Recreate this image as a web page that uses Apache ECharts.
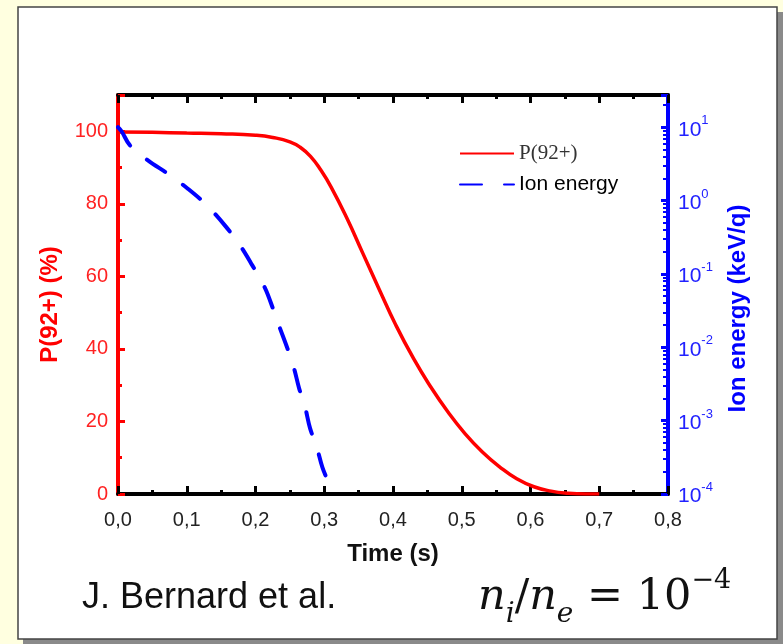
<!DOCTYPE html>
<html><head><meta charset="utf-8">
<script src="https://cdn.jsdelivr.net/npm/echarts@6/dist/echarts.min.js"></script>
<style>html,body{margin:0;padding:0;background:#ffffe0}#c{width:783px;height:644px}</style>
</head><body><div id="c"></div>
<script>
// P(92+) (%) vs time (s)
const pTime  = [0, 0.05, 0.10, 0.15, 0.20, 0.225, 0.25, 0.265, 0.28, 0.295, 0.31, 0.333, 0.356, 0.38, 0.403, 0.43, 0.455, 0.48, 0.505, 0.53, 0.555, 0.58, 0.605, 0.63, 0.655, 0.68, 0.70];
const pValue = [99.8, 99.7, 99.5, 99.3, 98.9, 98.3, 97.1, 95.6, 93.1, 89.3, 84.6, 76.0, 66.4, 56.4, 47.0, 37.3, 29.5, 22.6, 16.6, 11.6, 7.5, 4.2, 2.0, 0.8, 0.2, 0, 0];
// Ion energy (keV/q) vs time (s)
const eTime  = [0, 0.0054, 0.0175, 0.044, 0.073, 0.102, 0.129, 0.156, 0.1775, 0.1945, 0.2137, 0.2259, 0.2355, 0.2463, 0.256, 0.2633, 0.272, 0.2793, 0.289, 0.2972, 0.3084];
const eValue = [10, 8.75, 5.64, 3.51, 2.31, 1.44, 0.867, 0.452, 0.245, 0.135, 0.0647, 0.0327, 0.0183, 0.00975, 0.00519, 0.00279, 0.00155, 0.00079, 0.00044, 0.000233, 0.000127];
const seriesNames = ['P(92+)', 'Ion energy'];
const xName = 'Time (s)';
const yLeftName = 'P(92+) (%)';
const yRightName = 'Ion energy (keV/q)';
const author = 'J. Bernard et al.';

const SANS = '"Liberation Sans", Arial, sans-serif';
const SERIF = '"Liberation Serif", "Times New Roman", serif';
const MATH = '"DejaVu Serif", serif';

const chart = echarts.init(document.getElementById('c'));
const zip = (a, b) => a.map((v, i) => [v, b[i]]);

chart.setOption({
  backgroundColor: '#ffffe0',
  animation: false,
  grid: { left: 118, right: 115, top: 95, bottom: 150 },
  legend: {
    orient: 'vertical', left: 454, top: 138,
    itemWidth: 54, itemHeight: 18, itemGap: 10,
    itemStyle: { opacity: 0 },
    data: seriesNames,
    formatter: n => n === seriesNames[0] ? '{a|' + n + '}' : '{b|' + n + '}',
    textStyle: {
      rich: {
        a: { fontFamily: SERIF, fontSize: 21, color: '#333' },
        b: { fontFamily: SANS, fontSize: 21, color: '#000' }
      }
    }
  },
  xAxis: [{
    type: 'value', min: 0, max: 0.8, interval: 0.1, position: 'bottom',
    name: xName, nameLocation: 'middle', nameGap: 48,
    nameTextStyle: { fontFamily: SANS, fontWeight: 'bold', fontSize: 24, color: '#111' },
    axisLine: { onZero: false, lineStyle: { color: '#000', width: 4 } },
    axisTick: { inside: true, length: 8, lineStyle: { color: '#000', width: 3 } },
    minorTick: { show: true, splitNumber: 2, length: 4, lineStyle: { color: '#000', width: 3 } },
    axisLabel: { fontFamily: SANS, fontSize: 20, color: '#222', margin: 16,
      formatter: v => v.toFixed(1).replace('.', ',') },
    splitLine: { show: false }
  }, {
    type: 'value', min: 0, max: 0.8, interval: 0.1, position: 'top',
    axisLine: { onZero: false, lineStyle: { color: '#000', width: 4 } },
    axisTick: { inside: true, length: 8, lineStyle: { color: '#000', width: 3 } },
    minorTick: { show: true, splitNumber: 2, length: 4, lineStyle: { color: '#000', width: 3 } },
    axisLabel: { show: false },
    splitLine: { show: false }
  }],
  yAxis: [{
    type: 'value', min: 0, max: 110, interval: 20, position: 'left',
    name: yLeftName, nameLocation: 'middle', nameGap: 56, nameRotate: 90,
    nameTextStyle: { fontFamily: SANS, fontWeight: 'bold', fontSize: 24, color: '#ff0000', padding: [0, 20, 0, 0] },
    axisLine: { onZero: false, lineStyle: { color: '#ff0000', width: 4 } },
    axisTick: { inside: true, length: 7, lineStyle: { color: '#ff0000', width: 3 } },
    minorTick: { show: true, splitNumber: 2, length: 4, lineStyle: { color: '#ff0000', width: 3 } },
    axisLabel: { fontFamily: SANS, fontSize: 20, color: '#ff2222', margin: 10,
      formatter: v => (v % 20 === 0 ? String(v) : '') },
    splitLine: { show: false }
  }, {
    type: 'log', logBase: 10, min: 0.0001, max: 27.5, position: 'right',
    name: yRightName, nameLocation: 'middle', nameGap: 58, nameRotate: 90,
    nameTextStyle: { fontFamily: SANS, fontWeight: 'bold', fontSize: 24, color: '#0000ff', padding: [0, 28, 0, 0] },
    axisLine: { onZero: false, lineStyle: { color: '#0000ff', width: 4 } },
    axisTick: { inside: true, length: 7, lineStyle: { color: '#0000ff', width: 3 } },
    minorTick: { show: true, splitNumber: 9, length: 5, lineStyle: { color: '#0000ff', width: 2 } },
    axisLabel: {
      margin: 10,
      formatter: v => {
        const e = Math.log10(v);
        const r = Math.round(e);
        if (Math.abs(e - r) > 1e-6) return '';
        return '{b|10}{s|' + r + '}';
      },
      rich: {
        b: { fontFamily: SANS, fontSize: 21, color: '#2222ff', lineHeight: 26, verticalAlign: 'bottom' },
        s: { fontFamily: SANS, fontSize: 13, color: '#2222ff', lineHeight: 26, verticalAlign: 'top' }
      }
    },
    splitLine: { show: false }
  }],
  series: [{
    name: seriesNames[0], type: 'line', xAxisIndex: 0, yAxisIndex: 0,
    data: zip(pTime, pValue), smooth: 0.5, symbol: 'none', z: 3,
    lineStyle: { color: '#ff0000', width: 3.5 }, itemStyle: { color: '#ff0000' }
  }, {
    name: seriesNames[1], type: 'line', xAxisIndex: 0, yAxisIndex: 1,
    data: zip(eTime, eValue), smooth: 0.35, symbol: 'none', z: 3,
    lineStyle: { color: '#0000ff', width: 4, type: [22, 22], cap: 'round' }, itemStyle: { color: '#0000ff' }
  }],
  graphic: [
    { type: 'rect', z: -10, silent: true, shape: { x: 23, y: 12, width: 760, height: 632 }, style: { fill: '#8a8a8a' } },
    { type: 'rect', z: -9, silent: true, shape: { x: 18, y: 7, width: 759, height: 632 }, style: { fill: '#ffffff', stroke: '#444', lineWidth: 1.5 } },
    { type: 'text', z: 10, x: 82, y: 598, style: { text: author, fontFamily: SANS, fontSize: 36, fill: '#111', verticalAlign: 'middle' } },
    { type: 'text', z: 10, x: 478, y: 598, style: {
        text: '{i|n}{sb|i}{r|/}{i|n}{sb|e}{r| = 10}{sp|−4}',
        verticalAlign: 'middle',
        rich: {
          i: { fontFamily: MATH, fontStyle: 'italic', fontSize: 43, fill: '#111', lineHeight: 62, verticalAlign: 'middle' },
          r: { fontFamily: MATH, fontSize: 43, fill: '#111', lineHeight: 62, verticalAlign: 'middle' },
          sb: { fontFamily: MATH, fontStyle: 'italic', fontSize: 28, fill: '#111', lineHeight: 62, verticalAlign: 'bottom' },
          sp: { fontFamily: MATH, fontSize: 27, fill: '#111', lineHeight: 62, verticalAlign: 'top' }
        }
    } }
  ]
});
</script></body></html>
